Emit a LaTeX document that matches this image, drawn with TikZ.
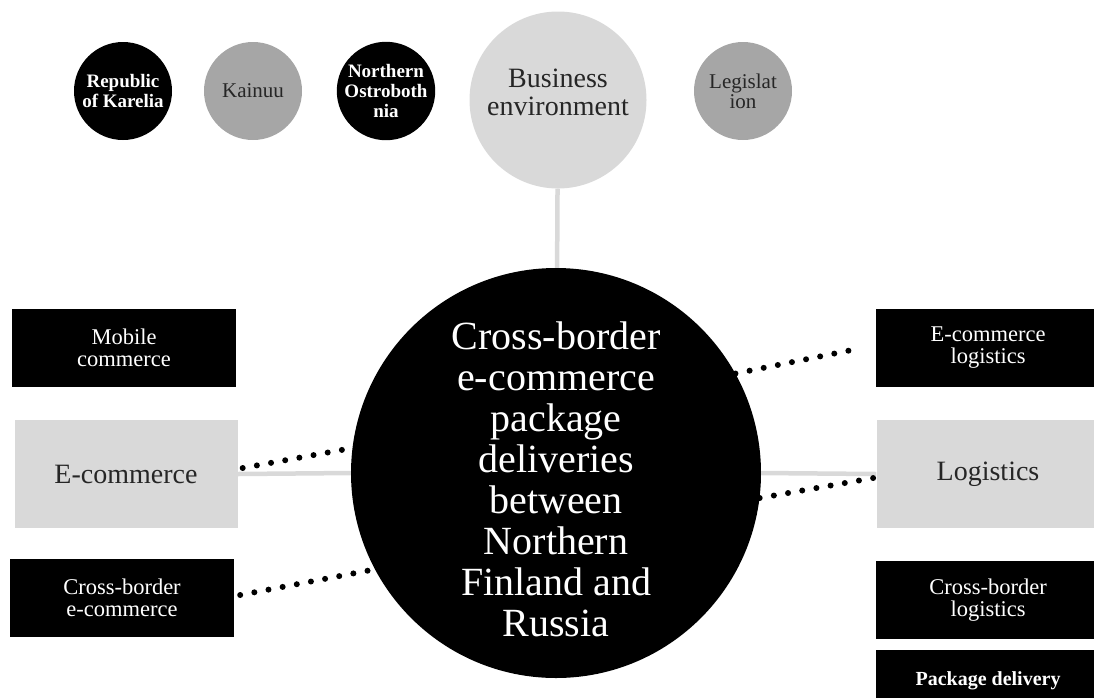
\documentclass[tikz,border=0pt]{standalone}
\usepackage{fontspec}
\setmainfont{Liberation Serif}
\usetikzlibrary{calc}
\definecolor{lightgrey}{HTML}{D9D9D9}
\definecolor{midgrey}{HTML}{A6A6A6}
\tikzset{
	smalldot/.style={circle, minimum size=98pt, inner sep=0pt, align=center, font=\fontsize{21}{20}\selectfont},
	blackdot/.style={smalldot, fill=black, text=white, font=\fontsize{19}{20}\selectfont\bfseries},
	greydot/.style={smalldot, fill=midgrey, text=black!85},
	tagbox/.style={rectangle, minimum width=224pt, minimum height=78pt, inner sep=0pt, fill=black, text=white, align=center, font=\fontsize{22.5}{22}\selectfont},
	topicbox/.style={rectangle, minimum width=223pt, minimum height=108pt, inner sep=0pt, fill=lightgrey, text=black!85, font=\fontsize{28}{28}\selectfont},
	link/.style={lightgrey, line width=4.5pt},
	dots/.style={line width=6pt, line cap=round, dash pattern=on 0pt off 14.4pt}
}

\begin{document}
\begin{tikzpicture}[x=1pt, y=-1pt]
			%%%%% START %%%%%
			\useasboundingbox (0, 0) rectangle (1094, 697);
			\clip (0, 0) rectangle (1094, 697);
			
			\node[blackdot] (karelia) at (123, 91) {Republic\\of Karelia};
			\node[greydot] (kainuu) at (253, 91) {Kainuu};
			\node[blackdot] (ostro) at (386, 91) {Northern\\Ostroboth\\nia};
			\node[greydot] (legis) at (743, 91) {Legislat\\ion};
			
			\node[circle, minimum size=177pt, inner sep=0pt, fill=lightgrey] (busenv) at (558, 100) {};
			\node[align=center, text=black!85, font=\fontsize{28}{28}\selectfont] (busenvtext) at (558, 92) {Business\\environment};
			
			\node[circle, minimum size=410pt, inner sep=0pt, fill=black] (hub) at (556, 473) {};
			\node[align=center, text=white, font=\fontsize{40}{41}\selectfont] (hubtext) at (556, 479) {Cross-border\\e-commerce\\package\\deliveries\\between\\Northern\\Finland and\\Russia};
			
			\node[tagbox] (mobile) at (124, 348) {Mobile\\commerce};
			\node[topicbox] (ecom) at (126, 474) {E-commerce};
			\node[tagbox] (cbecom) at (122, 598) {Cross-border\\e-commerce};
			
			\node[tagbox] (ecomlog) at (988, 348) {E-commerce\\logistics};
			\node[topicbox] (logi) at (988, 474) {Logistics};
			\node[tagbox] (cblog) at (988, 600) {Cross-border\\logistics};
			\node[tagbox, minimum height=62pt, font=\fontsize{20}{20}\selectfont\bfseries] (package) at (988, 681) {Package delivery};
			
			\draw[link] (busenv) -- (hub);
			\draw[link] (ecom.east) -- (hub.west);
			\draw[link] (hub.east) -- (logi.west);
			
			\draw[dots] ([xshift=5pt, yshift=6pt]ecom.east) -- (hub.173);
			\draw[dots] ([xshift=6pt, yshift=3pt]cbecom.east) -- (hub.208);
			\draw[dots] (hub.29) -- ([xshift=-14pt]ecomlog.west);
			\draw[dots] (hub.-7) -- ([xshift=-3pt, yshift=-4pt]logi.west);
			%%%%% END %%%%%
\end{tikzpicture}
\end{document}
